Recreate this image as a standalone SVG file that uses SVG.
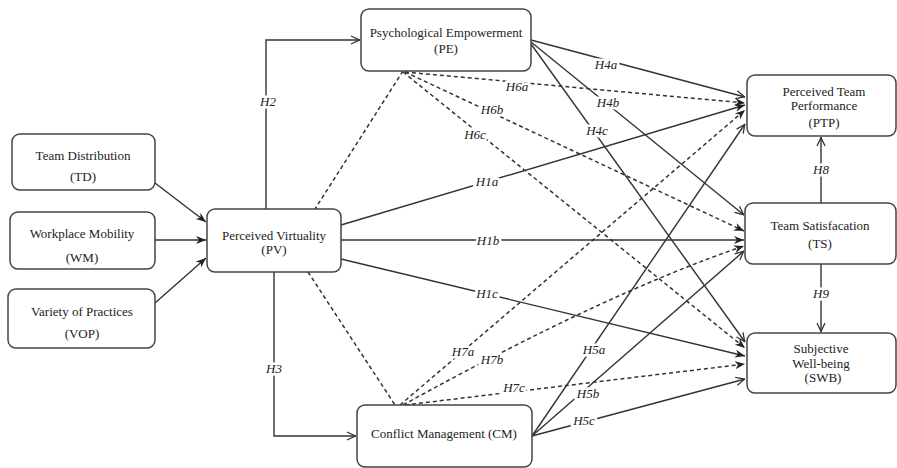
<svg xmlns="http://www.w3.org/2000/svg" width="897" height="468" viewBox="0 0 897 468">
<style>
.node rect{fill:#fff;stroke:#444;stroke-width:1.5}
.node text{font-size:13px;fill:#222;text-anchor:middle}
.c{fill:none;stroke:#333;stroke-width:1.4}
.d{fill:none;stroke:#333;stroke-width:1.5;stroke-dasharray:4 3}
.lbl{font-size:13px;font-style:italic;fill:#222;text-anchor:middle;stroke:#fff;stroke-width:5;paint-order:stroke;stroke-linejoin:round}
.f{font-family:"Liberation Serif","DejaVu Serif",serif}
</style>
<defs>
<marker id="af" viewBox="0 0 10 10" refX="10" refY="5" markerWidth="10" markerHeight="10" markerUnits="userSpaceOnUse" orient="auto">
<path d="M0,1 L10,5 L0,9 L3,5 Z" fill="#222"/>
</marker>
<marker id="ao" viewBox="0 0 10 10" refX="10" refY="5" markerWidth="10" markerHeight="10" markerUnits="userSpaceOnUse" orient="auto">
<path d="M1,1 L9.5,5 L1,9" fill="none" stroke="#333" stroke-width="1.3"/>
</marker>
</defs>
<rect width="897" height="468" fill="#fff"/>
<g id="connectors" class="f">
<line class="c" x1="155" y1="183" x2="206" y2="222" marker-end="url(#af)"/>
<line class="c" x1="155" y1="240" x2="206" y2="240" marker-end="url(#af)"/>
<line class="c" x1="155" y1="303" x2="206" y2="258" marker-end="url(#af)"/>
<polyline class="c" points="266,209 266,40 360,40" marker-end="url(#ao)"/>
<polyline class="c" points="274,272 274,436 356,436" marker-end="url(#ao)"/>
<line class="d" x1="403" y1="71" x2="315" y2="209"/>
<line class="d" x1="308" y1="272" x2="395" y2="405"/>
<line class="c" x1="341" y1="225" x2="745" y2="105" marker-end="url(#af)"/>
<line class="c" x1="341" y1="240" x2="744" y2="240" marker-end="url(#af)"/>
<line class="c" x1="341" y1="259" x2="745" y2="356" marker-end="url(#af)"/>
<line class="c" x1="531" y1="40" x2="745" y2="97" marker-end="url(#ao)"/>
<line class="c" x1="531" y1="42" x2="744" y2="215" marker-end="url(#ao)"/>
<line class="c" x1="531" y1="44" x2="745" y2="342" marker-end="url(#ao)"/>
<line class="d" x1="405" y1="72" x2="745" y2="103" marker-end="url(#af)"/>
<line class="d" x1="405" y1="72" x2="744" y2="231" marker-end="url(#af)"/>
<line class="d" x1="403" y1="72" x2="745" y2="348" marker-end="url(#af)"/>
<line class="d" x1="400" y1="405" x2="745" y2="110" marker-end="url(#af)"/>
<path class="d" d="M403,405 Q608,292 744,246" marker-end="url(#af)"/>
<line class="d" x1="405" y1="405" x2="745" y2="364" marker-end="url(#af)"/>
<line class="c" x1="532" y1="436" x2="745" y2="124" marker-end="url(#ao)"/>
<line class="c" x1="532" y1="436" x2="744" y2="251" marker-end="url(#ao)"/>
<line class="c" x1="532" y1="436" x2="745" y2="379" marker-end="url(#ao)"/>
<line class="c" x1="821" y1="203" x2="821" y2="137" marker-end="url(#ao)"/>
<line class="c" x1="821" y1="264" x2="821" y2="332" marker-end="url(#ao)"/>
<text class="lbl" x="268" y="106">H2</text>
<text class="lbl" x="274" y="373">H3</text>
<text class="lbl" x="487" y="186">H1a</text>
<text class="lbl" x="488" y="245">H1b</text>
<text class="lbl" x="487" y="298">H1c</text>
<text class="lbl" x="606" y="69">H4a</text>
<text class="lbl" x="608" y="107">H4b</text>
<text class="lbl" x="597" y="135">H4c</text>
<text class="lbl" x="517" y="91">H6a</text>
<text class="lbl" x="492" y="114">H6b</text>
<text class="lbl" x="475" y="139">H6c</text>
<text class="lbl" x="463" y="356">H7a</text>
<text class="lbl" x="492" y="364">H7b</text>
<text class="lbl" x="514" y="392">H7c</text>
<text class="lbl" x="594" y="354">H5a</text>
<text class="lbl" x="588" y="398">H5b</text>
<text class="lbl" x="584" y="425">H5c</text>
<text class="lbl" x="821" y="174">H8</text>
<text class="lbl" x="821" y="298">H9</text>
</g>
<g id="TD" class="node f"><rect x="12" y="134" width="143" height="56" rx="8"/><text x="83" y="160">Team Distribution</text><text x="83" y="181">(TD)</text></g>
<g id="WM" class="node f"><rect x="10" y="212" width="145" height="57" rx="8"/><text x="82" y="238">Workplace Mobility</text><text x="82" y="262">(WM)</text></g>
<g id="VOP" class="node f"><rect x="8" y="289" width="147" height="59" rx="8"/><text x="82" y="316">Variety of Practices</text><text x="82" y="338">(VOP)</text></g>
<g id="PV" class="node f"><rect x="207" y="209" width="134" height="63" rx="8"/><text x="274" y="240">Perceived Virtuality</text><text x="274" y="254">(PV)</text></g>
<g id="PE" class="node f"><rect x="361" y="9" width="170" height="62" rx="8"/><text x="446" y="37">Psychological Empowerment</text><text x="446" y="53">(PE)</text></g>
<g id="CM" class="node f"><rect x="357" y="405" width="175" height="62" rx="8"/><text x="444" y="438">Conflict Management (CM)</text></g>
<g id="PTP" class="node f"><rect x="747" y="75" width="149" height="61" rx="8"/><text x="824" y="96">Perceived Team</text><text x="824" y="110">Performance</text><text x="824" y="127">(PTP)</text></g>
<g id="TS" class="node f"><rect x="745" y="203" width="151" height="61" rx="8"/><text x="820" y="230">Team Satisfacation</text><text x="820" y="248">(TS)</text></g>
<g id="SWB" class="node f"><rect x="747" y="333" width="149" height="60" rx="8"/><text x="821" y="353">Subjective</text><text x="821" y="368">Well-being</text><text x="823" y="382">(SWB)</text></g>
</svg>
